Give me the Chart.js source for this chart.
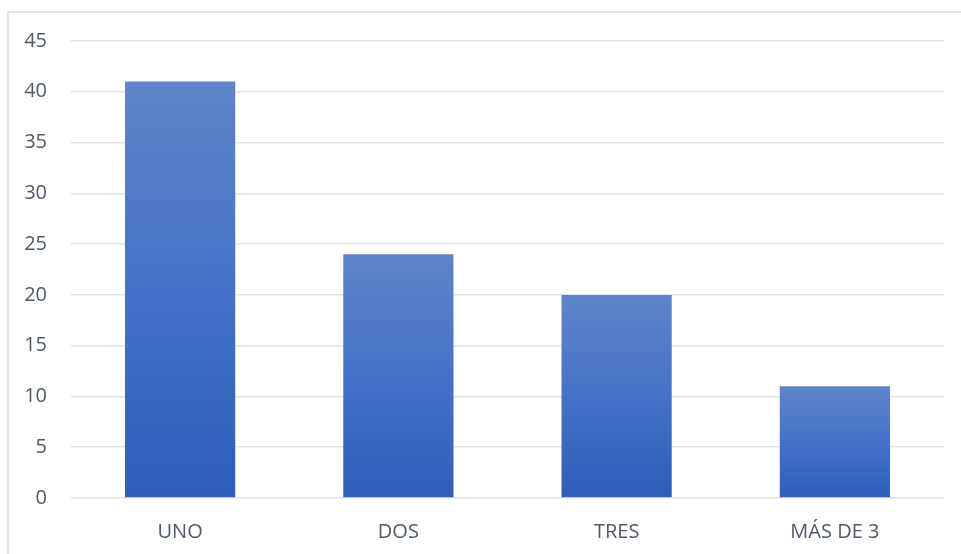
<!DOCTYPE html>
<html><head><meta charset="utf-8">
<script src="https://cdn.jsdelivr.net/npm/chart.js@4/dist/chart.umd.min.js"></script>
<style>
html,body{margin:0;padding:0;background:#fff;overflow:hidden}
#frame{position:absolute;left:7px;top:11px;width:980px;height:560px;border:2px solid #e1e5ea;box-sizing:border-box}
#wrap{position:absolute;left:0;top:0;width:961px;height:554px}
</style></head>
<body>
<div id="frame"></div>
<div id="wrap"><canvas id="c" width="961" height="554"></canvas></div>
<script>
const categories = ['UNO', 'DOS', 'TRES', 'MÁS DE 3'];
const values = [41, 24, 20, 11];
const yMin = 0, yMax = 45, yStep = 5;

function barGradient(ctx) {
  const chart = ctx.chart;
  if (!chart.chartArea || ctx.dataIndex === undefined) return '#4472C4';
  const ys = chart.scales.y;
  const top = ys.getPixelForValue(values[ctx.dataIndex]);
  const bottom = ys.getPixelForValue(0);
  const g = chart.ctx.createLinearGradient(0, top, 0, bottom);
  g.addColorStop(0, '#6184CA');
  g.addColorStop(0.5, '#4472C8');
  g.addColorStop(1, '#2E5EB9');
  return g;
}

new Chart(document.getElementById('c'), {
  type: 'bar',
  data: {
    labels: categories,
    datasets: [{ data: values, backgroundColor: barGradient, borderWidth: 0,
      categoryPercentage: 1.0, barPercentage: 0.505 }]
  },
  options: {
    responsive: false,
    animation: false,
    layout: { padding: { left: 0, right: 17, top: 41, bottom: 0 } },
    plugins: { legend: { display: false }, tooltip: { enabled: false } },
    scales: {
      x: {
        grid: { display: false, drawTicks: false },
        border: { display: false },
        ticks: { color: '#4E5A6B', font: { family: 'Open Sans', size: 20 }, padding: 22 },
        afterFit: s => { s.height = 56; }
      },
      y: {
        min: yMin, max: yMax,
        grid: { color: '#dfe3e9', lineWidth: 1.5, drawTicks: false },
        border: { display: false },
        ticks: { stepSize: yStep, color: '#4E5A6B', font: { family: 'Open Sans', size: 20 }, padding: 24 },
        afterFit: s => { s.width = 71; }
      }
    }
  }
});
</script>
</body></html>
